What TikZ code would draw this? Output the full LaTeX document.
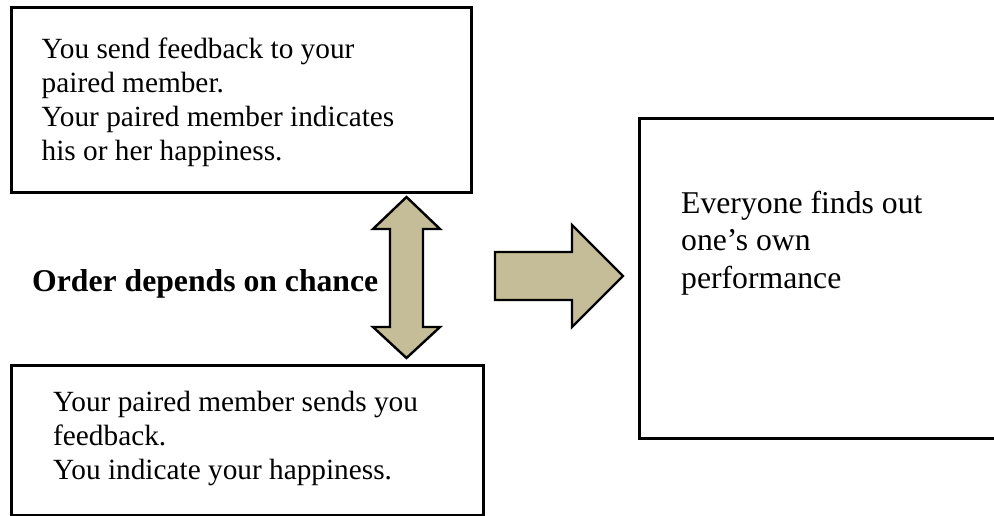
\documentclass[tikz,border=0pt]{standalone}
\usepackage{fontspec}
\setmainfont{Liberation Serif}
\definecolor{tan}{HTML}{C4BD97}
\tikzset{
  box/.style={draw=black, line width=2.6pt, fill=none, inner sep=0pt},
  blockarrow/.style={draw=black, fill=tan, line width=2.4pt, line join=miter},
  smalltext/.style={inner sep=0pt, anchor=base west, align=left, font=\fontsize{29.3}{34.2}\selectfont},
  bigtext/.style={inner sep=0pt, anchor=base west, align=left, font=\fontsize{31.7}{37.5}\selectfont},
}
\begin{document}
\begin{tikzpicture}[x=1pt,y=-1pt]
\useasboundingbox (0,0) rectangle (994,515);
% boxes
\node[box, minimum width=460pt, minimum height=185pt, anchor=north west] (top) at (10,6) {};
\node[box, minimum width=472pt, minimum height=150pt, anchor=north west] (bottom) at (10,364) {};
\node[box, minimum width=362pt, minimum height=320pt, anchor=north west] (right) at (638,117) {};
% texts (anchor = baseline of last line)
\node[smalltext] (toptext) at (41.5,160.9) {You send feedback to your\\paired member.\\Your paired member indicates\\his or her happiness.};
\node[smalltext] (bottomtext) at (53,479.5) {Your paired member sends you\\feedback.\\You indicate your happiness.};
\node[bigtext] (righttext) at (681,288) {Everyone finds out\\one’s own\\performance};
\node[bigtext, font=\bfseries\fontsize{31.7}{37.5}\selectfont] (order) at (32,291) {Order depends on chance};
% double arrow
\coordinate (dtip) at (406.5,197);
\coordinate (dbot) at (406.5,358);
\draw[blockarrow] (dtip) -- (440,229) -- (423,229) -- (423,327) -- (440,327) -- (dbot)
  -- (373,327) -- (390,327) -- (390,229) -- (373,229) -- cycle;
% right arrow
\coordinate (rtip) at (623,276);
\draw[blockarrow] (495,252) -- (572,252) -- (572,225) -- (rtip) -- (572,327) -- (572,300) -- (495,300) -- cycle;
\end{tikzpicture}
\end{document}
